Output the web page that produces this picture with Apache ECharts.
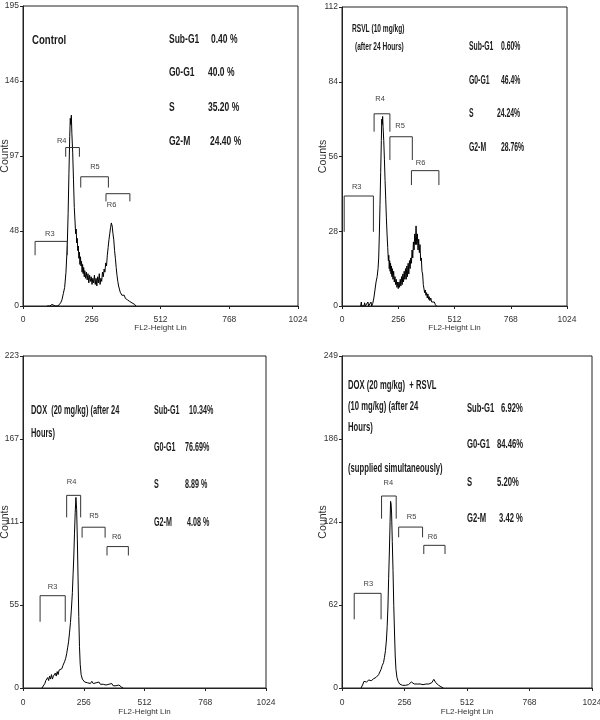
<!DOCTYPE html>
<html><head><meta charset="utf-8">
<script src="https://cdn.jsdelivr.net/npm/echarts/dist/echarts.min.js"></script>
<style>html,body{margin:0;padding:0;background:#fff}#c{width:600px;height:720px}</style>
</head><body><div id="c"></div>
<script>
// ---------- DATA ----------
const xTickLabels = ['0', '256', '512', '768', '1024'];
const yMax = [195, 112, 223, 249];
const yTickLabels1 = ['0', '48', '97', '146', '195'];
const yTickLabels2 = ['0', '28', '56', '84', '112'];
const yTickLabels3 = ['0', '55', '111', '167', '223'];
const yTickLabels4 = ['0', '62', '124', '186', '249'];

const phases = ['Sub-G1', 'G0-G1', 'S', 'G2-M'];
const values1 = ['0.40 %', '40.0 %', '35.20 %', '24.40 %'];
const values2 = ['0.60%', '46.4%', '24.24%', '28.76%'];
const values3 = ['10.34%', '76.69%', '8.89 %', '4.08 %'];
const values4 = ['6.92%', '84.46%', '5.20%', '3.42 %'];

const title1 = ['Control'];
const title2 = ['RSVL (10 mg/kg)', '(after 24 Hours)'];
const title3 = ['DOX  (20 mg/kg) (after 24', 'Hours)'];
const title4 = ['DOX (20 mg/kg)  + RSVL', '(10 mg/kg) (after 24', 'Hours)', '(supplied simultaneously)'];

// histograms: [channel, count]
const hist1 = [[90,0],[95,1],[100,0],[108,1],[115,1],[120,0],[130,0],[135,1],[140,2],[145,4],[150,8],[155,12],[160,22],[165,40],[168,60],[171,86],[174,110],[176,122],[178,118],[180,124],[182,112],[185,100],[188,82],[191,64],[194,54],[196,47],[198,50],[200,41],[202,44],[204,36],[206,39],[208,31],[210,35],[212,27],[214,32],[216,26],[218,29],[220,22],[222,27],[224,21],[226,25],[228,19],[230,23],[233,18],[236,22],[239,17],[242,21],[245,15],[248,20],[251,16],[254,19],[257,14],[260,18],[263,15],[266,20],[269,14],[272,18],[275,13],[278,19],[281,15],[284,21],[287,14],[290,18],[293,16],[296,22],[299,19],[302,24],[305,22],[308,28],[311,26],[314,33],[317,38],[320,43],[323,47],[326,51],[329,54],[332,52],[335,47],[338,43],[341,36],[344,31],[347,25],[350,20],[353,16],[356,13],[359,11],[362,9],[365,10],[368,7],[371,8],[374,6],[377,7],[381,5],[385,6],[389,4],[393,5],[397,3],[401,3],[406,2],[411,1],[416,1],[420,0]];
const hist2 = [[85,0],[88,1.5],[90,0],[100,0],[103,1.2],[106,0],[115,0],[118,1.5],[121,0],[128,0],[132,1.5],[135,0],[140,1],[145,3],[150,6],[155,9],[160,11],[164,14],[167,18],[170,27],[173,38],[176,50],[179,62],[181,70],[183,68],[185,71],[187,67],[190,62],[193,55],[196,47],[199,40],[202,33],[205,27],[208,22],[211,17],[213,19],[215,14],[217,17],[219,13],[221,16],[223,12],[225,15],[227,11],[229,14],[232,10],[235,13],[238,9],[241,11],[244,8],[247,10],[250,7],[253,9],[256,6.5],[259,9],[262,7],[265,10],[268,7.5],[271,11],[274,8],[277,12],[280,9],[283,13],[286,10],[289,14],[292,10],[295,15],[298,11],[301,16],[304,12],[307,17],[310,14],[313,18],[316,16],[319,21],[322,18],[325,24],[328,21],[331,27],[334,23],[337,30],[340,23],[343,27],[346,21],[349,25],[352,20],[355,23],[358,17],[361,18],[364,13],[367,12],[370,8],[373,8],[376,5],[379,6],[382,4],[385,5],[388,3],[391,4.5],[394,2.5],[397,3.5],[400,2],[404,3],[408,1.5],[412,2],[416,1],[420,1.5],[425,0.5],[430,0]];
const hist3 = [[80,0],[86,1],[92,3],[96,5],[100,4],[104,7],[108,5],[112,8],[116,6],[120,9],[124,6],[128,8],[132,7],[136,10],[140,8],[144,11],[148,9],[152,12],[156,11],[160,13],[164,13],[168,15],[172,16],[176,18],[180,20],[184,23],[188,27],[192,31],[196,37],[200,44],[204,53],[208,64],[211,76],[214,88],[217,104],[220,118],[223,128],[226,120],[229,100],[232,74],[235,48],[238,28],[241,16],[245,9],[250,6],[255,5],[260,4],[266,4.5],[272,3.5],[278,4],[284,3],[290,4.5],[296,3],[302,2.5],[308,3.5],[314,2.5],[320,4],[326,2.5],[332,3.5],[338,2.5],[344,3],[350,2],[356,3],[362,2.5],[368,2],[374,3],[380,1.5],[386,2],[392,1.5],[398,1],[404,2],[410,1.5],[416,0.5],[422,0]];
const hist4 = [[78,0],[82,1.5],[86,3],[90,5],[95,3.5],[100,4.5],[105,4],[110,6],[115,5],[120,5.5],[125,5],[130,7],[135,6.5],[140,8],[145,8.5],[150,10],[155,12],[160,14],[165,17],[170,19],[174,23],[178,28],[182,36],[185,46],[188,60],[191,82],[194,102],[197,125],[199,140],[201,138],[203,132],[206,110],[209,88],[212,62],[215,42],[218,24],[221,14],[225,8],[230,5],[236,3],[242,2.5],[248,2],[254,3],[260,2],[266,3],[272,2.5],[278,3.5],[284,4.5],[290,3.5],[296,3],[302,4],[308,3],[314,4],[320,3],[326,3.5],[332,2.5],[338,4],[344,3],[350,3.5],[356,3],[362,4.5],[368,4],[372,5.5],[376,6.5],[380,5],[384,4],[388,3.5],[392,2.5],[396,2],[400,1.5],[405,1],[410,0.5],[415,0]];

// gates: [name, startChannel, endChannel, barCount, dropCount, labelChannel, labelCount]
const gates1 = [['R3',45,165,42,33,100,47],['R4',159,210,103,97,144,107.5],['R5',215,318,84,77,268,90.5],['R6',309,398,73,68,330,66]];
const gates2 = [['R3',10,143,41.2,27.8,67,44.5],['R4',146,218,72,65.3,173,77.5],['R5',218,320,63.4,54.7,264,67.4],['R6',316,441,50.7,45.3,358,53.7]];
const gates3 = [['R3',72,178,62,44.5,125,68],['R4',184,243,129.4,114.6,205,138.6],['R5',249,346,108,101,299,115.5],['R6',354,444,95,89,395,101.6]];
const gates4 = [['R3',50,160,71,51.5,108,77.8],['R4',162,222,144,127,190,154],['R5',232,330,120.7,113,285,128.5],['R6',335,422,107,100.5,371,113.5]];

// ---------- LAYOUT ----------
const FONT = '"Liberation Sans", Arial, sans-serif';
const panels = [
  {grid:{left:23,top:6,width:275,height:300}, yLabels:yTickLabels1, hist:hist1, gates:gates1, xMargin:9, xNameGap:18, yNameGap:12.5,
   title:title1, titlePos:[[32,40]], titleSize:13, titleSx:0.74, values:values1,
   nameX:169, valX:[211,208,208,210], statY:[40,73,108,142], statSize:12.5, statSx:0.68},
  {grid:{left:342,top:7,width:225,height:299}, yLabels:yTickLabels2, hist:hist2, gates:gates2, xMargin:9, xNameGap:18, yNameGap:13,
   title:title2, titlePos:[[352,29],[355,47]], titleSize:11, titleSx:0.6, values:values2,
   nameX:469, valX:[501,501,497,501], statY:[47,81,114,148], statSize:12, statSx:0.57},
  {grid:{left:23,top:356,width:243,height:332}, yLabels:yTickLabels3, hist:hist3, gates:gates3, xMargin:10, xNameGap:20, yNameGap:12.5,
   title:title3, titlePos:[[31,410],[31,433]], titleSize:13.5, titleSx:0.55, values:values3,
   nameX:154, valX:[189,185,185,187], statY:[410,447,484,522], statSize:13, statSx:0.55},
  {grid:{left:342,top:356,width:250,height:332}, yLabels:yTickLabels4, hist:hist4, gates:gates4, xMargin:10, xNameGap:20, yNameGap:13,
   title:title4, titlePos:[[348,385],[348,406],[348,427],[348,468]], titleSize:13, titleSx:0.59, values:values4,
   nameX:467, valX:[501,497,497,499], statY:[408,444,482,518], statSize:13, statSx:0.59}
];

function txt(x, y, s, size, sx) {
  return {type:'text', x:x, y:y, scaleX:sx, silent:true,
    style:{text:s, x:0, y:0, fontSize:size, fontWeight:'bold', fontFamily:FONT, fill:'#1a1a1a', align:'left', verticalAlign:'middle'}};
}

const grids = [], xAxes = [], yAxes = [], series = [], graphics = [];
panels.forEach((p, i) => {
  grids.push(Object.assign({show:true, borderColor:'#222', borderWidth:1, containLabel:false, outerBoundsMode:'none'}, p.grid));
  xAxes.push({gridIndex:i, type:'value', min:0, max:1024, interval:256,
    axisLine:{show:true, onZero:false, lineStyle:{color:'#222', width:1}},
    axisTick:{show:true, length:3, lineStyle:{color:'#222'}},
    splitLine:{show:false},
    axisLabel:{margin:p.xMargin, fontSize:8.5, color:'#333', fontFamily:FONT, showMinLabel:true, showMaxLabel:true, hideOverlap:false,
      formatter:(v) => xTickLabels[Math.round(v / 256)]},
    name:'FL2-Height Lin', nameLocation:'middle', nameGap:p.xNameGap, nameMoveOverlap:false,
    nameTextStyle:{fontSize:8, color:'#333', fontFamily:FONT}});
  const step = yMax[i] / 4;
  yAxes.push({gridIndex:i, type:'value', min:0, max:yMax[i], interval:step,
    axisLine:{show:true, onZero:false, lineStyle:{color:'#222', width:1}},
    axisTick:{show:true, length:3, lineStyle:{color:'#222'}},
    splitLine:{show:false},
    axisLabel:{margin:4, fontSize:8.5, color:'#333', fontFamily:FONT, showMinLabel:true, showMaxLabel:true, hideOverlap:false,
      formatter:(v) => p.yLabels[Math.round(v / step)]},
    name:'Counts', nameLocation:'middle', nameGap:p.yNameGap, nameRotate:90, nameMoveOverlap:false,
    nameTextStyle:{fontSize:10.5, color:'#333', fontFamily:FONT}});
  series.push({type:'line', xAxisIndex:i, yAxisIndex:i, data:p.hist, symbol:'none', smooth:false,
    lineStyle:{color:'#000', width:1}, z:3, silent:true});
  const gates = p.gates;
  series.push({type:'custom', xAxisIndex:i, yAxisIndex:i, silent:true, z:4,
    data:gates.map(g => g.slice(1)),
    renderItem:(params, api) => {
      const x1 = api.value(0), x2 = api.value(1), y = api.value(2), yd = api.value(3);
      const a = api.coord([x1, yd]), b = api.coord([x1, y]), c = api.coord([x2, y]), d = api.coord([x2, yd]);
      const l = api.coord([api.value(4), api.value(5)]);
      return {type:'group', children:[
        {type:'polyline', shape:{points:[a, b, c, d]}, style:{stroke:'#333', lineWidth:1, fill:null}},
        {type:'text', x:l[0], y:l[1], style:{text:gates[params.dataIndex][0], fontSize:7.5, fontFamily:FONT, fill:'#444', align:'center', verticalAlign:'middle'}}
      ]};
    }});
  p.title.forEach((t, k) => graphics.push(txt(p.titlePos[k][0], p.titlePos[k][1], t, p.titleSize, p.titleSx)));
  phases.forEach((ph, k) => {
    graphics.push(txt(p.nameX, p.statY[k], ph, p.statSize, p.statSx));
    graphics.push(txt(p.valX[k], p.statY[k], p.values[k], p.statSize, p.statSx));
  });
});

const chart = echarts.init(document.getElementById('c'), null, {renderer:'canvas'});
chart.setOption({animation:false, backgroundColor:'#fff', grid:grids, xAxis:xAxes, yAxis:yAxes, series:series, graphic:graphics});
</script></body></html>
